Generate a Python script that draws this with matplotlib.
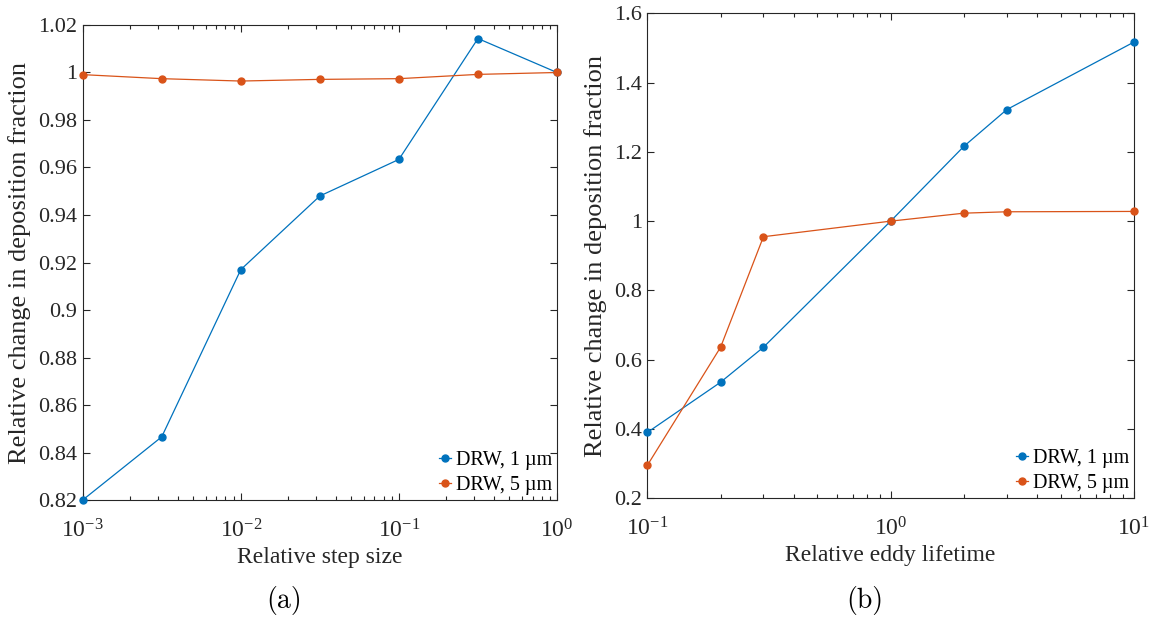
import numpy as np
import matplotlib.pyplot as plt
from matplotlib.ticker import FuncFormatter, LogLocator, NullFormatter

plt.rcParams["font.family"] = ["Liberation Serif", "DejaVu Serif"]
plt.rcParams["mathtext.fontset"] = "custom"
plt.rcParams["mathtext.rm"] = "Liberation Serif"
plt.rcParams["mathtext.it"] = "Liberation Serif:italic"

# (a) step size sweep
step = [1e-3, 10**-2.5, 1e-2, 10**-1.5, 1e-1, 10**-0.5, 1.0]
step_1um = [0.8200, 0.8466, 0.9170, 0.9480, 0.9634, 1.0143, 1.0000]
step_5um = [0.9991, 0.9974, 0.9964, 0.9971, 0.9974, 0.9992, 1.0000]

# (b) eddy lifetime sweep
life = [0.1, 0.2, 0.3, 1.0, 2.0, 3.0, 10.0]
life_1um = [0.390, 0.535, 0.636, 1.000, 1.216, 1.322, 1.517]
life_5um = [0.295, 0.636, 0.955, 1.000, 1.023, 1.027, 1.028]

labels = ["DRW, 1 \u00b5m", "DRW, 5 \u00b5m"]
blue, orange = "#0072BD", "#D95319"
dark = "#262626"
fs = 16

fig = plt.figure(figsize=(11.58, 6.17), dpi=100)
ax_a = fig.add_axes([0.0714, 0.1896, 0.4096, 0.7699])
ax_b = fig.add_axes([0.5590, 0.1924, 0.4203, 0.7861])


def pow10(x, pos):
    return r"$\mathregular{10^{%d}}$" % round(np.log10(x))


def style(ax):
    ax.set_xscale("log")
    ax.xaxis.set_major_locator(LogLocator(base=10, numticks=10))
    ax.xaxis.set_minor_locator(LogLocator(base=10, subs=np.arange(2, 10), numticks=10))
    ax.xaxis.set_major_formatter(FuncFormatter(pow10))
    ax.xaxis.set_minor_formatter(NullFormatter())
    ax.yaxis.set_major_formatter(FuncFormatter(lambda v, p: "%g" % round(v, 4)))
    ax.tick_params(which="both", direction="in", top=True, right=True,
                   color=dark, labelcolor=dark, labelsize=fs, width=0.8)
    ax.tick_params(which="major", length=5)
    ax.tick_params(which="minor", length=3)
    ax.tick_params(axis="y", pad=4)
    ax.tick_params(axis="x", pad=14, labelsize=fs + 1)
    for s in ax.spines.values():
        s.set_color(dark)
        s.set_linewidth(0.8)


for ax, x, y1, y5 in [(ax_a, step, step_1um, step_5um),
                      (ax_b, life, life_1um, life_5um)]:
    ax.plot(x, y1, "-o", color=blue, lw=0.9, ms=5, label=labels[0], clip_on=False, zorder=3)
    ax.plot(x, y5, "-o", color=orange, lw=0.9, ms=5, label=labels[1], clip_on=False, zorder=3)
    style(ax)
    ax.set_ylabel("Relative change in deposition fraction", fontsize=19, color=dark, labelpad=5)
    ax.legend(loc="lower right", frameon=False, fontsize=14.5, handlelength=0.6,
              handletextpad=0.25, labelspacing=0.3, borderaxespad=0.05, borderpad=0.2)

ax_a.set_xlim(1e-3, 1)
ax_a.set_ylim(0.82, 1.02)
ax_a.set_yticks(np.arange(0.82, 1.021, 0.02))
ax_a.set_xlabel("Relative step size", fontsize=17, color=dark, labelpad=3)

ax_b.set_xlim(0.1, 10)
ax_b.set_ylim(0.2, 1.6)
ax_b.set_yticks(np.arange(0.2, 1.61, 0.2))
ax_b.set_xlabel("Relative eddy lifetime", fontsize=17, color=dark, labelpad=3)

fig.text(0.245, 0.027, "(a)", family="cmr10", fontsize=20, ha="center", va="center")
fig.text(0.747, 0.027, "(b)", family="cmr10", fontsize=20, ha="center", va="center")

fig.savefig("out.png", dpi=100)
